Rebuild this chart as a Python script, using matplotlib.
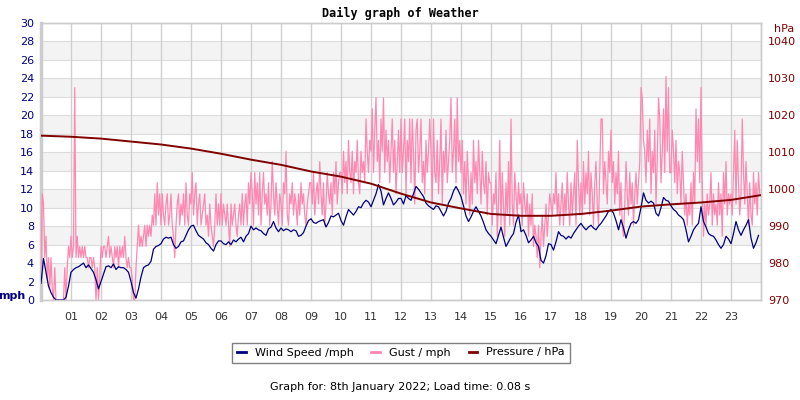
import numpy as np
import matplotlib
matplotlib.use('Agg')
import matplotlib.pyplot as plt

# wind speed, 5-minute samples, one row per hour (mph)
wind = [
    [1.8, 4.5, 3.0, 1.5, 0.8, 0.3, 0, 0, 0, 0, 0.3, 1.5],
    [3.0, 3.3, 3.5, 3.6, 3.8, 4.0, 3.5, 3.8, 3.4, 3.0, 2.2, 1.2],
    [2.0, 2.8, 3.6, 3.7, 3.5, 3.9, 3.3, 3.6, 3.5, 3.5, 3.3, 3.0],
    [2.0, 0.8, 0.2, 1.2, 2.5, 3.5, 3.7, 3.8, 4.2, 5.5, 5.8, 5.9],
    [6.1, 6.6, 6.8, 6.7, 6.8, 6.0, 5.6, 5.8, 6.3, 6.4, 7.0, 7.6],
    [8.0, 8.1, 7.5, 7.0, 6.8, 6.6, 6.2, 6.0, 5.6, 5.3, 6.0, 6.4],
    [6.4, 6.1, 6.0, 6.3, 6.0, 6.5, 6.3, 6.6, 6.8, 6.3, 6.9, 7.2],
    [8.0, 7.6, 7.8, 7.6, 7.5, 7.2, 7.0, 7.7, 7.9, 8.5, 7.8, 7.4],
    [7.8, 7.5, 7.7, 7.6, 7.4, 7.6, 7.5, 6.9, 7.0, 7.3, 8.0, 8.6],
    [8.8, 8.4, 8.3, 8.5, 8.6, 8.7, 7.9, 8.4, 9.1, 9.0, 9.2, 9.4],
    [8.6, 8.1, 9.0, 9.8, 9.5, 9.2, 9.6, 10.1, 10.0, 10.5, 10.8, 10.6],
    [10.1, 10.8, 11.5, 12.5, 11.8, 10.3, 11.0, 11.6, 11.0, 10.3, 10.6, 11.0],
    [11.0, 10.4, 11.3, 11.0, 10.8, 11.5, 12.3, 12.0, 11.6, 11.2, 10.5, 10.2],
    [10.0, 9.8, 10.2, 10.1, 9.6, 9.1, 9.6, 10.5, 11.0, 11.8, 12.3, 11.8],
    [11.2, 10.2, 9.1, 8.5, 9.0, 9.6, 10.1, 9.6, 9.1, 8.4, 7.6, 7.2],
    [6.9, 6.5, 6.1, 7.0, 7.9, 6.8, 5.8, 6.3, 6.8, 7.2, 8.4, 9.2],
    [7.4, 7.6, 7.0, 6.2, 6.5, 6.9, 6.2, 5.8, 4.3, 4.0, 4.8, 6.1],
    [6.0, 5.4, 6.3, 7.4, 7.0, 6.9, 6.6, 6.9, 6.7, 7.2, 7.6, 8.0],
    [8.3, 7.9, 7.6, 7.9, 8.1, 7.8, 7.6, 8.0, 8.3, 8.7, 9.1, 9.6],
    [9.8, 9.4, 8.6, 7.6, 8.7, 7.8, 6.7, 7.6, 8.3, 8.5, 8.3, 8.7],
    [10.0, 11.6, 10.8, 10.5, 10.7, 10.5, 9.4, 9.1, 10.0, 11.1, 10.8, 10.7],
    [10.2, 9.8, 9.6, 9.2, 9.0, 8.7, 7.6, 6.3, 6.9, 7.6, 8.0, 8.3],
    [10.1, 8.5, 7.9, 7.2, 7.0, 6.9, 6.5, 6.0, 5.6, 6.0, 6.9, 6.6],
    [6.1, 7.2, 8.5, 7.6, 7.0, 7.6, 8.1, 8.7, 6.7, 5.6, 6.2, 7.0],
]

# gust, 2.5-minute samples, one row per hour (mph)
gust = [
    [3.5, 11.5, 10.4, 4.6, 6.9, 2.3, 4.6, 1.2, 4.6, 1.2, 0, 3.5, 0, 0, 0, 0, 0, 0, 0, 3.5, 0, 3.5, 5.8, 4.6],
    [6.9, 4.6, 5.8, 23.0, 4.6, 6.9, 4.6, 5.8, 4.6, 5.8, 4.6, 5.8, 4.6, 4.6, 3.5, 4.6, 4.6, 3.5, 4.6, 3.5, 0, 3.5, 0, 2.3],
    [5.8, 4.6, 5.8, 5.8, 4.6, 5.8, 6.9, 4.6, 5.8, 4.6, 3.5, 5.8, 4.6, 5.8, 3.5, 5.8, 4.6, 5.8, 4.6, 6.9, 4.6, 3.5, 4.6, 3.5],
    [3.5, 2.3, 0, 0, 3.5, 5.8, 8.1, 5.8, 6.9, 5.8, 6.9, 8.1, 5.8, 8.1, 6.9, 8.1, 6.9, 9.2, 8.1, 11.5, 8.1, 12.7, 9.2, 11.5],
    [8.1, 11.5, 9.2, 8.1, 10.4, 11.5, 8.1, 9.2, 11.5, 8.1, 6.9, 4.6, 8.1, 10.4, 11.5, 8.1, 10.4, 9.2, 11.5, 8.1, 12.7, 9.2, 8.1, 11.5],
    [10.4, 13.8, 9.2, 11.5, 12.7, 8.1, 10.4, 11.5, 8.1, 9.2, 10.4, 11.5, 8.1, 9.2, 6.9, 10.4, 8.1, 6.9, 5.8, 8.1, 11.5, 8.1, 10.4, 8.1],
    [11.5, 8.1, 10.4, 9.2, 8.1, 10.4, 8.1, 5.8, 10.4, 8.1, 9.2, 10.4, 8.1, 6.9, 9.2, 10.4, 8.1, 11.5, 8.1, 10.4, 11.5, 8.1, 12.7, 10.4],
    [13.8, 11.5, 8.1, 13.8, 10.4, 12.7, 9.2, 13.8, 8.1, 11.5, 13.8, 10.4, 11.5, 9.2, 12.7, 8.1, 10.4, 15.0, 11.5, 9.2, 12.7, 10.4, 8.1, 11.5],
    [10.4, 8.1, 12.7, 11.5, 16.1, 9.2, 8.1, 11.5, 10.4, 12.7, 9.2, 11.5, 10.4, 8.1, 11.5, 9.2, 12.7, 10.4, 11.5, 9.2, 8.1, 10.4, 11.5, 12.7],
    [12.7, 10.4, 13.8, 9.2, 11.5, 12.7, 10.4, 15.0, 11.5, 9.2, 12.7, 8.1, 10.4, 13.8, 11.5, 10.4, 12.7, 9.2, 13.8, 11.5, 15.0, 10.4, 12.7, 13.8],
    [13.8, 11.5, 16.1, 12.7, 15.0, 11.5, 17.3, 13.8, 12.7, 16.1, 11.5, 15.0, 13.8, 17.3, 12.7, 11.5, 16.1, 13.8, 15.0, 12.7, 19.6, 16.1, 13.8, 17.3],
    [16.1, 20.7, 13.8, 18.4, 21.9, 15.0, 17.3, 12.7, 19.6, 16.1, 21.9, 13.8, 18.4, 15.0, 17.3, 12.7, 16.1, 19.6, 13.8, 17.3, 11.5, 15.0, 18.4, 13.8],
    [19.6, 13.8, 16.1, 19.6, 11.5, 17.3, 15.0, 19.6, 12.7, 19.6, 16.1, 10.4, 18.4, 19.6, 13.8, 16.1, 19.6, 12.7, 15.0, 11.5, 17.3, 13.8, 16.1, 19.6],
    [16.1, 10.4, 19.6, 13.8, 12.7, 17.3, 11.5, 15.0, 19.6, 10.4, 16.1, 13.8, 18.4, 12.7, 15.0, 17.3, 21.9, 13.8, 16.1, 19.6, 12.7, 21.9, 15.0, 17.3],
    [13.8, 17.3, 11.5, 15.0, 10.4, 16.1, 12.7, 9.2, 13.8, 10.4, 17.3, 12.7, 15.0, 11.5, 17.3, 13.8, 10.4, 16.1, 12.7, 11.5, 15.0, 9.2, 13.8, 12.7],
    [12.7, 8.1, 11.5, 10.4, 13.8, 6.9, 10.4, 17.3, 8.1, 13.8, 10.4, 6.9, 12.7, 9.2, 15.0, 8.1, 19.6, 10.4, 8.1, 13.8, 11.5, 9.2, 12.7, 10.4],
    [11.5, 8.1, 12.7, 10.4, 9.2, 11.5, 6.9, 10.4, 8.1, 11.5, 5.8, 8.1, 6.9, 4.6, 8.1, 3.5, 6.9, 9.2, 5.8, 8.1, 10.4, 6.9, 9.2, 11.5],
    [10.4, 9.2, 11.5, 10.4, 13.8, 9.2, 11.5, 8.1, 10.4, 12.7, 8.1, 11.5, 9.2, 13.8, 10.4, 8.1, 12.7, 9.2, 11.5, 13.8, 8.1, 17.3, 12.7, 9.2],
    [12.7, 9.2, 15.0, 10.4, 13.8, 11.5, 16.1, 9.2, 13.8, 11.5, 8.1, 12.7, 15.0, 10.4, 8.1, 13.8, 19.6, 19.6, 11.5, 15.0, 12.7, 10.4, 16.1, 13.8],
    [18.4, 12.7, 15.0, 10.4, 13.8, 11.5, 16.1, 9.2, 12.7, 8.1, 6.9, 10.4, 15.0, 11.5, 9.2, 13.8, 10.4, 12.7, 8.1, 11.5, 13.8, 10.4, 12.7, 15.0],
    [23.0, 21.9, 17.3, 16.1, 12.7, 18.4, 15.0, 19.6, 11.5, 16.1, 13.8, 18.4, 10.4, 15.0, 21.9, 19.6, 12.7, 16.1, 20.7, 13.8, 24.2, 16.1, 23.0, 13.8],
    [13.8, 18.4, 16.1, 12.7, 17.3, 11.5, 15.0, 13.8, 10.4, 16.1, 12.7, 9.2, 11.5, 8.1, 10.4, 9.2, 12.7, 8.1, 13.8, 10.4, 20.7, 15.0, 19.6, 12.7],
    [23.0, 12.7, 6.9, 10.4, 8.1, 11.5, 9.2, 10.4, 13.8, 8.1, 11.5, 9.2, 10.4, 8.1, 12.7, 9.2, 11.5, 6.9, 13.8, 10.4, 15.0, 9.2, 11.5, 10.4],
    [11.5, 9.2, 13.8, 18.4, 10.4, 17.3, 12.7, 9.2, 11.5, 19.6, 13.8, 10.4, 15.0, 11.5, 8.1, 12.7, 9.2, 8.1, 13.8, 10.4, 12.7, 9.2, 13.8, 11.5],
]

# hourly pressure (hPa), 00:00 .. 24:00
pressure = [1014.5, 1014.2, 1013.7, 1012.9, 1012.1, 1011.0, 1009.6, 1008.0,
            1006.6, 1004.8, 1003.4, 1001.5, 998.8, 996.4, 994.8, 993.3,
            992.8, 992.8, 993.3, 994.2, 995.3, 995.9, 996.4, 997.1, 998.4]

hour_labels = ['%02d' % h for h in range(1, 24)]
mph_ticks = list(range(0, 31, 2))
hpa_ticks = list(range(970, 1041, 10))

wind = np.array(wind).ravel()
gust = np.array(gust).ravel()
tw = np.arange(len(wind)) * 5 / 60.0
tg = np.arange(len(gust)) * 2.5 / 60.0
tp = np.arange(len(pressure))

navy = '#000080'
pink = '#ff88b0'
dred = '#800000'
fs = 8

fig = plt.figure(figsize=(8, 4), dpi=100)
ax = fig.add_axes([41/800, 1-300/400, 720/800, 277/400])
ax2 = ax.twinx()

for lo in range(2, 30, 4):
    ax.axhspan(lo, lo + 2, color='#f3f3f3', lw=0, zorder=0)
for y in mph_ticks:
    ax.axhline(y, color='#dcdcdc', lw=0.8, zorder=1)
for h in range(1, 24):
    ax.axvline(h, color='#d0d0d0', lw=1, zorder=1)

lg, = ax.plot(tg, gust, color=pink, lw=0.9, zorder=3)
lw, = ax.plot(tw, wind, color=navy, lw=0.9, zorder=4)
lp, = ax2.plot(tp, pressure, color=dred, lw=1.4, zorder=5)

ax.set_xlim(0, 24)
ax.set_ylim(0, 30)
ax2.set_ylim(970, 1045)

ax.set_xticks(range(1, 24))
ax.set_xticklabels(hour_labels)
ax.set_yticks(mph_ticks)
ax2.set_yticks(hpa_ticks)
ax.tick_params(axis='x', length=0, pad=9, labelsize=fs, labelcolor='#333333')
ax.tick_params(axis='y', length=0, pad=5, labelsize=fs, labelcolor=navy)
ax2.tick_params(axis='y', length=0, pad=5, labelsize=fs, labelcolor=dred)

for a in (ax, ax2):
    for s in a.spines.values():
        s.set_color('#cccccc')
        s.set_linewidth(1)
ax.spines['left'].set_linewidth(2.5)
ax2.spines['left'].set_visible(False)

fig.text(400/800, 1-13/400, 'Daily graph of Weather', ha='center', va='center',
         fontsize=8.5, fontweight='bold', family='DejaVu Sans Mono')
fig.text(12/800, 1-296/400, 'mph', ha='center', va='center', fontsize=fs,
         fontweight='bold', color=navy)
fig.text(784/800, 1-29/400, 'hPa', ha='center', va='center', fontsize=fs,
         color=dred)

leg = fig.legend([lw, lg, lp], ['Wind Speed /mph', 'Gust / mph', 'Pressure / hPa'],
                 loc='center', bbox_to_anchor=(401/800, 1-352.5/400), ncol=3,
                 fancybox=False, edgecolor='#808080', fontsize=fs,
                 handlelength=0.8, handletextpad=0.8, columnspacing=1.6,
                 borderpad=0.45, framealpha=1)
for h in leg.legend_handles:
    h.set_linewidth(2)

fig.text(400/800, 1-387/400, 'Graph for: 8th January 2022; Load time: 0.08 s',
         ha='center', va='center', fontsize=fs)

fig.savefig('out.png', dpi=100)
